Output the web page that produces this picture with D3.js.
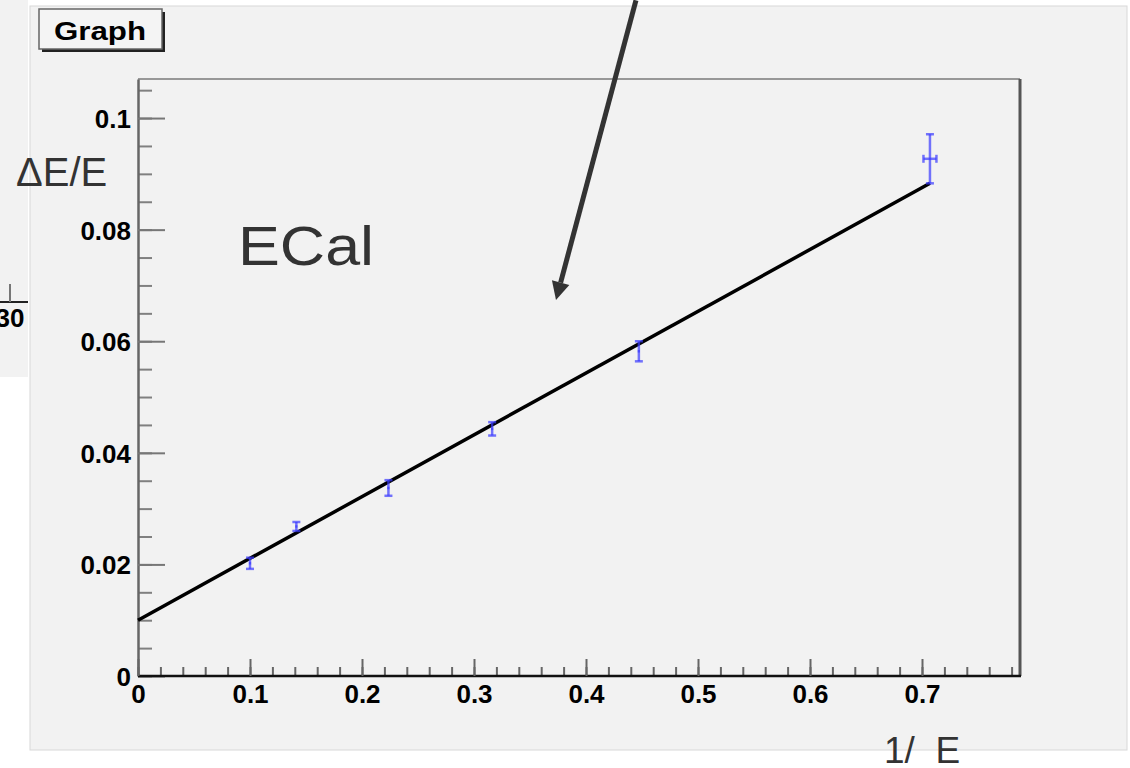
<!DOCTYPE html>
<html>
<head>
<meta charset="utf-8">
<script src="https://cdn.jsdelivr.net/npm/d3@7"></script>
<style>
  body { margin: 0; background: #fff; }
  text { font-family: "Liberation Sans", Arial, sans-serif; }
</style>
</head>
<body>
<div id="grafica"></div>
<script>
var xVals = [0.1, 0.1414, 0.2236, 0.3162, 0.4472, 0.7071];
var yVals = [0.0202, 0.0268, 0.0337, 0.0443, 0.0582, 0.0927];
var xErrs = [0.001, 0.001, 0.001, 0.001, 0.001, 0.0058];
var yErrs = [0.0010, 0.0008, 0.0014, 0.0012, 0.0018, 0.0044];

// fitted straight line (end points)
var fitX = [0, 0.7071];
var fitY = [0.0100, 0.0883];

var xTickValues = [0, 0.1, 0.2, 0.3, 0.4, 0.5, 0.6, 0.7];
var xTickLabels = ["0", "0.1", "0.2", "0.3", "0.4", "0.5", "0.6", "0.7"];
var yTickValues = [0, 0.02, 0.04, 0.06, 0.08, 0.1];
var yTickLabels = ["0", "0.02", "0.04", "0.06", "0.08", "0.1"];

// arrow annotation, in data units
var arrowFrom = [0.4446, 0.1211];
var arrowTo = [0.3732, 0.0674];

var W = 1130, H = 768;
var frame = {left: 138, right: 1020, top: 79, bottom: 676};

var svg = d3.select("#grafica")
  .append("svg")
    .attr("width", W)
    .attr("height", H);

// left-over pad on the far left
svg.append("rect")
  .attr("x", 0).attr("y", 0)
  .attr("width", 28).attr("height", 377)
  .style("fill", "#f2f2f2");
svg.append("line")
  .attr("x1", 0).attr("x2", 28).attr("y1", 302).attr("y2", 302)
  .style("stroke", "#222").attr("stroke-width", 2);
svg.append("line")
  .attr("x1", 10).attr("x2", 10).attr("y1", 302).attr("y2", 284)
  .style("stroke", "#777").attr("stroke-width", 2);
svg.append("text")
  .attr("x", 10).attr("y", 327)
  .attr("text-anchor", "middle")
  .style("font-size", "26px").style("font-weight", "bold")
  .text("30");

// main canvas
svg.append("rect")
  .attr("x", 30).attr("y", 6)
  .attr("width", 1097).attr("height", 744)
  .style("fill", "#f2f2f2")
  .style("stroke", "#d8d8d8").attr("stroke-width", 1);

// Graph title box
svg.append("rect")
  .attr("x", 42).attr("y", 12)
  .attr("width", 123).attr("height", 40)
  .style("fill", "#222");
svg.append("rect")
  .attr("x", 39).attr("y", 9)
  .attr("width", 123).attr("height", 40)
  .style("fill", "#f4f4f4")
  .style("stroke", "#666").attr("stroke-width", 1.5);
svg.append("text")
  .attr("x", 100).attr("y", 40)
  .attr("text-anchor", "middle")
  .attr("textLength", 92).attr("lengthAdjust", "spacingAndGlyphs")
  .style("font-size", "25px").style("font-weight", "bold")
  .text("Graph");

var x = d3.scaleLinear()
  .domain([0, 0.7875])
  .range([frame.left, frame.right]);
var y = d3.scaleLinear()
  .domain([0, 0.107])
  .range([frame.bottom, frame.top]);

// frame lines
svg.append("line")
  .attr("x1", frame.left).attr("x2", frame.right)
  .attr("y1", frame.top).attr("y2", frame.top)
  .style("stroke", "#7a7a7a").attr("stroke-width", 1.5);
svg.append("line")
  .attr("x1", frame.right).attr("x2", frame.right)
  .attr("y1", frame.top).attr("y2", frame.bottom)
  .style("stroke", "#555").attr("stroke-width", 3);

// Y axis
var yMinor = d3.range(0, 0.1075, 0.005);
var xMinor = d3.range(0, 0.785, 0.02);

svg.append("g")
  .attr("transform", "translate(" + frame.left + ",0)")
  .call(d3.axisLeft(y).tickValues(yMinor).tickSizeInner(-14).tickSizeOuter(0).tickFormat(""))
  .call(function(g) { g.select(".domain").remove(); })
  .selectAll("line").style("stroke", "#808080").attr("stroke-width", 2);

var yAxis = svg.append("g")
  .attr("transform", "translate(" + frame.left + ",0)")
  .call(d3.axisLeft(y).tickValues(yTickValues).tickSizeInner(-27).tickSizeOuter(0)
    .tickPadding(7)
    .tickFormat(function(d, i) { return yTickLabels[i]; }));
yAxis.select(".domain").style("stroke", "#666").attr("stroke-width", 2.5);
yAxis.selectAll(".tick line").style("stroke", "#777").attr("stroke-width", 2);
yAxis.selectAll(".tick text")
  .style("font-size", "26px").style("font-weight", "bold")
  .style("font-family", "'Liberation Sans', Arial, sans-serif")
  .style("fill", "#000")
  .attr("dy", "0.36em");

// X axis
svg.append("g")
  .attr("transform", "translate(0," + frame.bottom + ")")
  .call(d3.axisBottom(x).tickValues(xMinor).tickSizeInner(-9).tickSizeOuter(0).tickFormat(""))
  .call(function(g) { g.select(".domain").remove(); })
  .selectAll("line").style("stroke", "#666").attr("stroke-width", 2);

var xAxis = svg.append("g")
  .attr("transform", "translate(0," + frame.bottom + ")")
  .call(d3.axisBottom(x).tickValues(xTickValues).tickSizeInner(-17).tickSizeOuter(0)
    .tickPadding(8)
    .tickFormat(function(d, i) { return xTickLabels[i]; }));
xAxis.select(".domain").attr("d", "M" + frame.left + ",0H" + (frame.right + 1))
  .style("stroke", "#111").attr("stroke-width", 2.5);
xAxis.selectAll(".tick line").style("stroke", "#666").attr("stroke-width", 2);
xAxis.selectAll(".tick text")
  .style("font-size", "26px").style("font-weight", "bold")
  .style("font-family", "'Liberation Sans', Arial, sans-serif")
  .style("fill", "#000")
  .attr("dy", "0.72em");

// axis titles and label
svg.append("text")
  .attr("x", 16).attr("y", 186)
  .style("font-size", "40px").style("fill", "#333")
  .text("\u0394E/E");

svg.append("text")
  .attr("x", 238).attr("y", 265)
  .attr("textLength", 136).attr("lengthAdjust", "spacingAndGlyphs")
  .style("font-size", "56px").style("fill", "#333")
  .text("ECal");

svg.append("text")
  .attr("x", 884).attr("y", 763)
  .style("font-size", "37px").style("fill", "#333")
  .style("white-space", "pre")
  .text("1/  E");

// fit line
var fit = fitX.map(function(v, i) { return {x: v, y: fitY[i]}; });
svg.append("path")
  .datum(fit)
  .attr("fill", "none")
  .attr("stroke", "#000")
  .attr("stroke-width", 3.5)
  .attr("d", d3.line()
    .x(function(d) { return x(d.x); })
    .y(function(d) { return y(d.y); }));

// points with errors
var pts = xVals.map(function(v, i) {
  return {x: v, y: yVals[i], ex: xErrs[i], ey: yErrs[i]};
});
var errs = svg.append("g")
  .style("stroke", "#3a3aff")
  .attr("stroke-opacity", 0.7)
  .attr("stroke-width", 2.5);

errs.selectAll(".ey")
  .data(pts).enter().append("line")
  .attr("x1", function(d) { return x(d.x); })
  .attr("x2", function(d) { return x(d.x); })
  .attr("y1", function(d) { return y(d.y - d.ey); })
  .attr("y2", function(d) { return y(d.y + d.ey); });
errs.selectAll(".ex")
  .data(pts).enter().append("line")
  .attr("x1", function(d) { return x(d.x - d.ex); })
  .attr("x2", function(d) { return x(d.x + d.ex); })
  .attr("y1", function(d) { return y(d.y); })
  .attr("y2", function(d) { return y(d.y); });
// caps
[-1, 1].forEach(function(s) {
  errs.selectAll(".capy" + s)
    .data(pts).enter().append("line")
    .attr("x1", function(d) { return x(d.x) - 4; })
    .attr("x2", function(d) { return x(d.x) + 4; })
    .attr("y1", function(d) { return y(d.y + s * d.ey); })
    .attr("y2", function(d) { return y(d.y + s * d.ey); });
  errs.selectAll(".capx" + s)
    .data(pts.filter(function(d) { return d.ex > 0.003; })).enter().append("line")
    .attr("x1", function(d) { return x(d.x + s * d.ex); })
    .attr("x2", function(d) { return x(d.x + s * d.ex); })
    .attr("y1", function(d) { return y(d.y) - 4; })
    .attr("y2", function(d) { return y(d.y) + 4; });
});

// arrow
var ax0 = x(arrowFrom[0]), ay0 = y(arrowFrom[1]);
var ax1 = x(arrowTo[0]), ay1 = y(arrowTo[1]);
var dx = ax1 - ax0, dy = ay1 - ay0, len = Math.sqrt(dx * dx + dy * dy);
var ux = dx / len, uy = dy / len;
var hl = 18, hw = 9;
var bx = ax1 - ux * hl, by = ay1 - uy * hl;
svg.append("line")
  .attr("x1", ax0).attr("y1", ay0)
  .attr("x2", bx).attr("y2", by)
  .style("stroke", "#333").attr("stroke-width", 5);
svg.append("path")
  .attr("d", "M" + ax1 + "," + ay1 +
    "L" + (bx - uy * hw) + "," + (by + ux * hw) +
    "L" + (bx + uy * hw) + "," + (by - ux * hw) + "Z")
  .style("fill", "#333");
</script>
</body>
</html>
